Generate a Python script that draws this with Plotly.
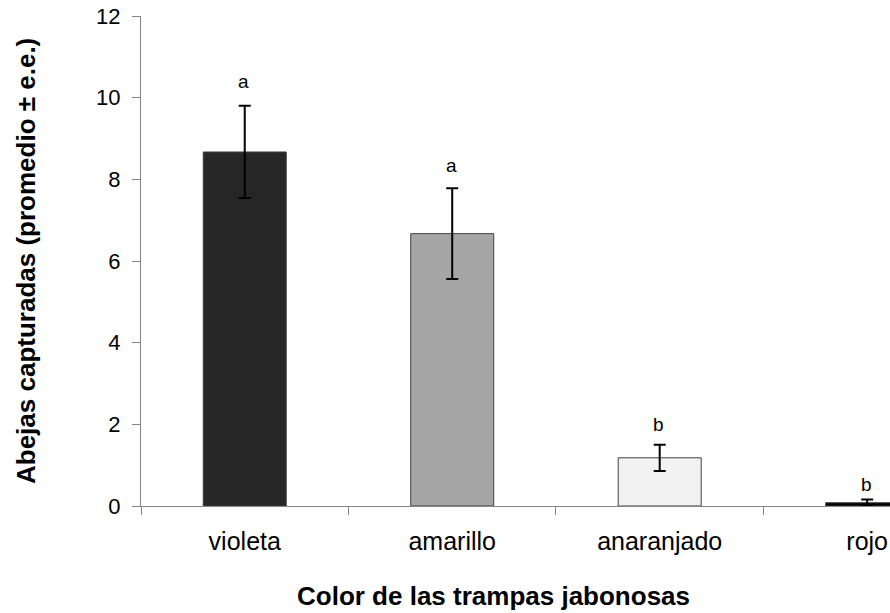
import plotly.graph_objects as go

# Mean bees captured per soap-trap colour, with standard error
colores = ["violeta", "amarillo", "anaranjado", "rojo"]
promedio = [8.67, 6.67, 1.18, 0.08]
error_est = [1.13, 1.11, 0.32, 0.08]
letras = ["a", "a", "b", "b"]

y_ticks = [0, 2, 4, 6, 8, 10, 12]

fill_colors = ["#262626", "#A6A6A6", "#F2F2F2", "#000000"]
axis_gray = "#868686"
font_family = "Liberation Sans, Arial, sans-serif"

fig = go.Figure()
fig.add_trace(go.Bar(
    x=colores,
    y=promedio,
    width=0.4,
    marker=dict(color=fill_colors, line=dict(color="#404040", width=1)),
    error_y=dict(type="data", array=error_est, visible=True,
                 color="#000000", thickness=2, width=6),
    showlegend=False,
))

# significance letters above each error bar
letter_shift = [24, 23, 20, 15]
for cat, m, e, lt, sh in zip(colores, promedio, error_est, letras, letter_shift):
    fig.add_annotation(x=cat, y=m + e, text=lt, showarrow=False,
                       yshift=sh, xshift=-1, xanchor="center", yanchor="middle",
                       font=dict(family=font_family, size=19, color="#000000"))

# axis titles
fig.add_annotation(x=0.5, y=0, xref="paper", yref="paper",
                   xanchor="center", yanchor="middle", yshift=-90, xshift=-22,
                   text="<b>Color de las trampas jabonosas</b>", showarrow=False,
                   font=dict(family=font_family, size=26, color="#000000"))
fig.add_annotation(x=0, y=0.5, xref="paper", yref="paper",
                   xanchor="center", yanchor="middle", xshift=-115,
                   textangle=-90,
                   text="<b>Abejas capturadas (promedio ± e.e.)</b>", showarrow=False,
                   font=dict(family=font_family, size=26, color="#000000"))

fig.update_layout(
    width=890, height=613,
    margin=dict(l=141, r=0, t=16, b=107),
    paper_bgcolor="#FFFFFF", plot_bgcolor="#FFFFFF",
)
fig.update_xaxes(
    range=[-0.5, 3.11],
    showline=True, linecolor=axis_gray, linewidth=1,
    ticks="outside", ticklen=8, tickcolor=axis_gray, tickson="boundaries",
    ticklabelstandoff=13,
    tickfont=dict(family=font_family, size=25, color="#000000"),
    showgrid=False, zeroline=False,
)
fig.update_yaxes(
    range=[0, 12], tickvals=y_ticks,
    showline=True, linecolor=axis_gray, linewidth=1,
    ticks="outside", ticklen=8, tickcolor=axis_gray,
    ticklabelstandoff=7,
    tickfont=dict(family=font_family, size=22, color="#000000"),
    showgrid=False, zeroline=False,
)

fig.write_html("out.html")
